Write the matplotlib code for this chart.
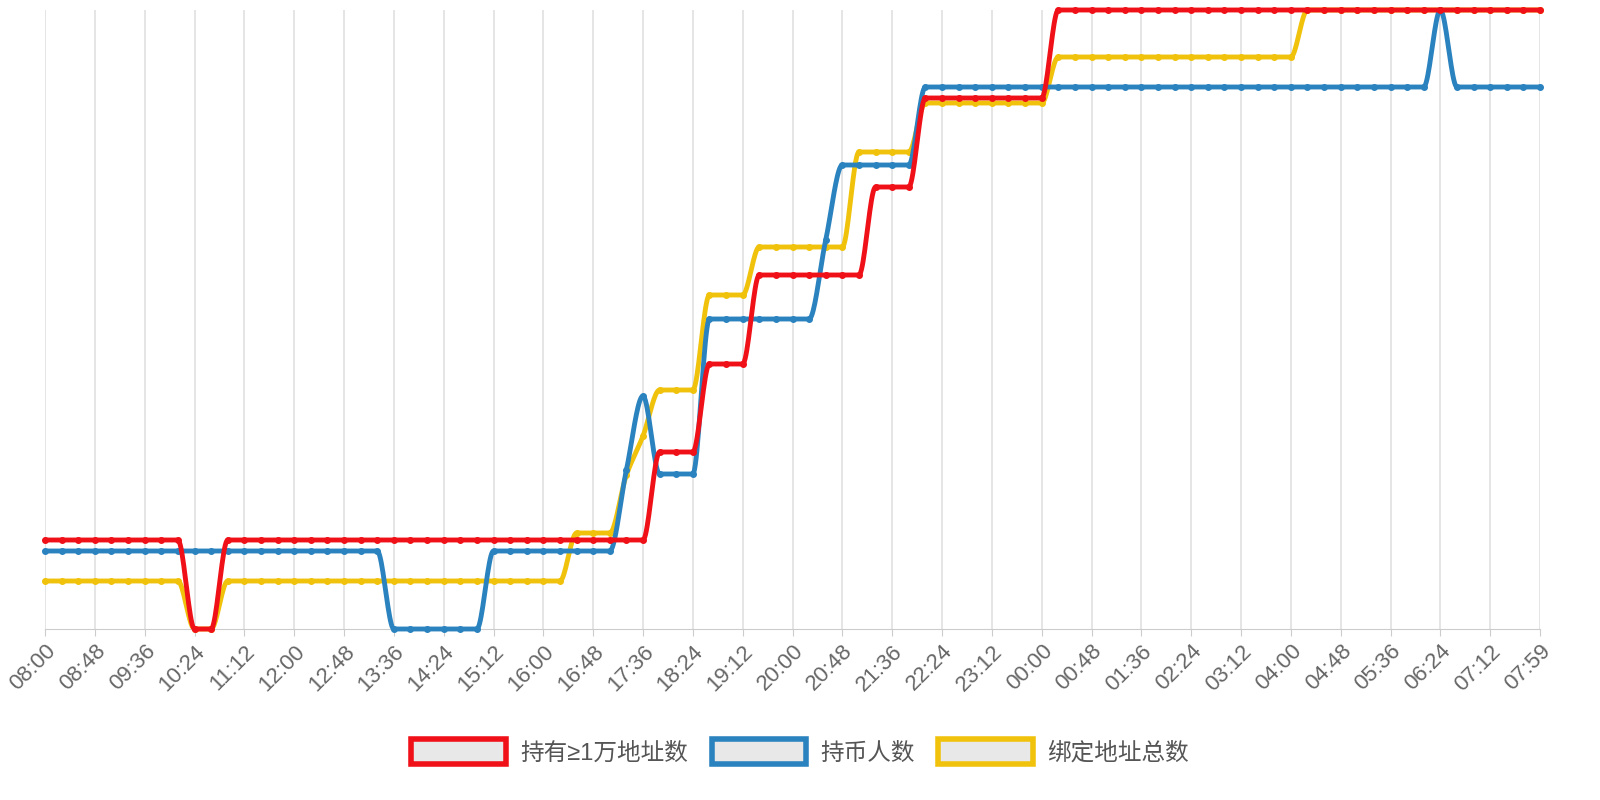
import numpy as np
import matplotlib
matplotlib.use("Agg")
import matplotlib.pyplot as plt
from matplotlib.patches import Patch

plt.rcParams['font.family'] = ['Liberation Sans', 'Noto Sans CJK SC', 'DejaVu Sans']

# 91 points, every 16 minutes from 08:00 to 07:59 next day
n_points = 91
tick_labels = ["08:00", "08:48", "09:36", "10:24", "11:12", "12:00", "12:48", "13:36",
               "14:24", "15:12", "16:00", "16:48", "17:36", "18:24", "19:12", "20:00",
               "20:48", "21:36", "22:24", "23:12", "00:00", "00:48", "01:36", "02:24",
               "03:12", "04:00", "04:48", "05:36", "06:24", "07:12", "07:59"]

def steps(pairs):
    # pairs: (start index, value) -> value held until next start
    out = []
    for k, (s, v) in enumerate(pairs):
        e = pairs[k + 1][0] if k + 1 < len(pairs) else n_points
        out += [v] * (e - s)
    return np.array(out, dtype=float)

red = steps([(0, 89), (9, 0), (11, 89), (37, 177), (40, 265), (43, 354),
             (50, 442), (53, 531), (61, 619)])
blue = steps([(0, 78), (21, 0), (27, 78), (35, 159), (36, 233), (37, 155),
              (40, 310), (47, 389), (48, 464), (53, 542), (84, 619), (85, 542)])
yellow = steps([(0, 48), (9, 0), (11, 48), (32, 96), (35, 154), (36, 193),
                (37, 239), (40, 334), (43, 382), (49, 477), (53, 526),
                (61, 572), (76, 619)])

series_names = ["持有≥1万地址数", "持币人数", "绑定地址总数"]
colors = ["#f01018", "#2a82bf", "#f0c20c"]

def monotone(x, y, num=20):
    d = np.diff(y) / np.diff(x)
    m = np.zeros_like(y)
    m[1:-1] = np.where(d[:-1] * d[1:] > 0, 2 / (1 / np.where(d[:-1] == 0, 1, d[:-1]) + 1 / np.where(d[1:] == 0, 1, d[1:])), 0)
    m[0], m[-1] = d[0], d[-1]
    xs, ys = [], []
    for i in range(len(x) - 1):
        h = x[i + 1] - x[i]
        t = np.linspace(0, 1, num, endpoint=False)
        h00 = 2 * t**3 - 3 * t**2 + 1
        h10 = t**3 - 2 * t**2 + t
        h01 = -2 * t**3 + 3 * t**2
        h11 = t**3 - t**2
        xs.append(x[i] + t * h)
        ys.append(h00 * y[i] + h10 * h * m[i] + h01 * y[i + 1] + h11 * h * m[i + 1])
    xs.append([x[-1]]); ys.append([y[-1]])
    return np.concatenate(xs), np.concatenate(ys)

fig = plt.figure(figsize=(16, 8), dpi=100)
ax = fig.add_axes([45 / 1600, 171 / 800, 1495 / 1600, 619 / 800])
x = np.arange(n_points, dtype=float)
for vals, c, z in zip([yellow, blue, red], [colors[2], colors[1], colors[0]], [2, 3, 4]):
    xs, ys = monotone(x, vals)
    ax.plot(xs, ys, color=c, lw=3.5, zorder=z, solid_capstyle="round", clip_on=False)
    ax.plot(x, vals, 'o', color=c, ms=4, zorder=z, clip_on=False)

ax.set_xlim(0, n_points - 1)
ax.set_ylim(0, 619)
ax.set_xticks(np.arange(0, n_points, 3))
ax.set_xticklabels(tick_labels, rotation=45, ha="right", rotation_mode="anchor",
                   fontsize=16, color="#666666")
ax.set_yticks([])
for s in ["top", "right", "left"]:
    ax.spines[s].set_visible(False)
ax.spines["bottom"].set_color("#cccccc")
ax.tick_params(axis="x", color="#cccccc", length=5)
ax.grid(axis="x", color="#e0e0e0", lw=1.2)
ax.set_axisbelow(True)

handles = [Patch(facecolor="#e8e8e8", edgecolor=c, lw=4) for c in colors]
fig.legend(handles, series_names, loc="center", bbox_to_anchor=(0.5, 1 - 752 / 800),
           ncol=3, frameon=False, fontsize=17, handlelength=4, handleheight=1.2,
           columnspacing=1.0, handletextpad=0.6, labelcolor="#555555")

fig.savefig("out.png", dpi=100)
